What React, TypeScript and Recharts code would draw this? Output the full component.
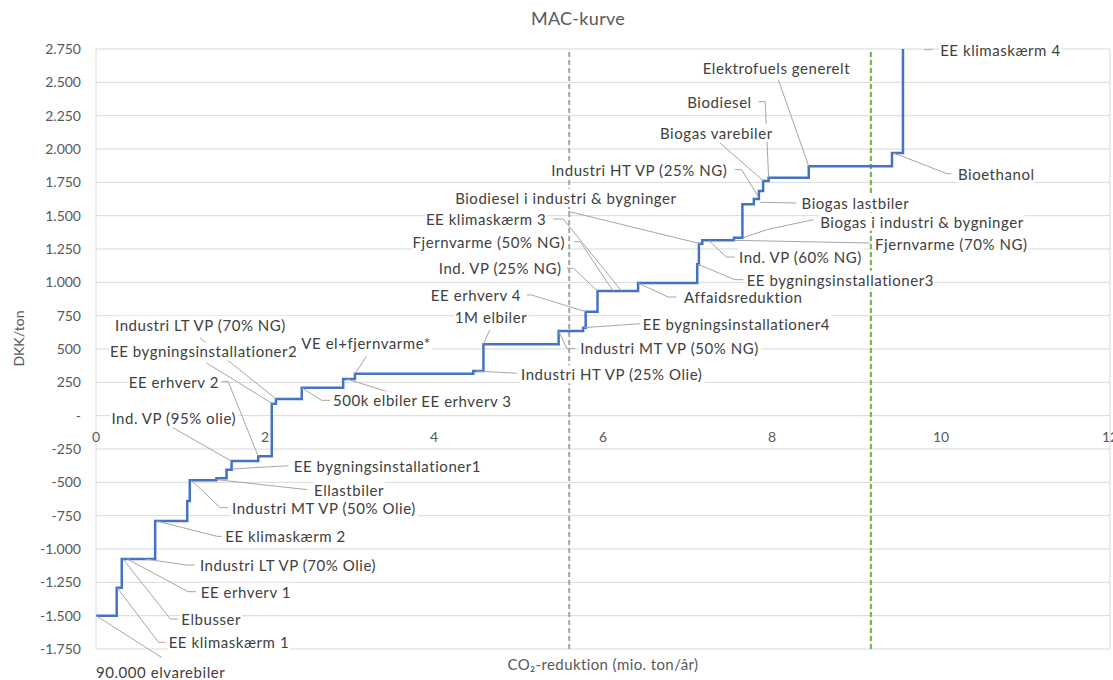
import React from 'react';
import {
  LineChart, Line, XAxis, YAxis, CartesianGrid, ReferenceLine, ReferenceDot, Label,
} from 'recharts';

// MAC curve: width of each step (mio. ton/år) and its cost (DKK/ton)
const stepWidths = [
  0.245, 0.06, 0.395, 0.38, 0.03, 0.315, 0.12, 0.06, 0.315, 0.16, 0.05, 0.305,
  0.49, 0.14, 1.4, 0.12, 0.89, 0.29, 0.03, 0.14, 0.48, 0.7, 0.02, 0.04, 0.375,
  0.1, 0.135, 0.06, 0.05, 0.065, 0.475, 0.985, 0.13, 0.3,
];
const stepCosts = [
  -1500, -1290, -1075, -790, -640, -485, -470, -405, -340, -305, 90, 125,
  210, 275, 315, 335, 535, 635, 660, 780, 935, 995, 1135, 1290, 1315,
  1335, 1585, 1625, 1685, 1760, 1785, 1870, 1970, 2900,
];

const xTicks = [0, 2, 4, 6, 8, 10, 12];
const yTicks = [
  -1750, -1500, -1250, -1000, -750, -500, -250, 0, 250, 500, 750, 1000,
  1250, 1500, 1750, 2000, 2250, 2500, 2750,
];

const targetLines = [
  { x: 5.6, color: '#A5A5A5' },
  { x: 9.17, color: '#70AD47' },
];

// data labels: leader line points and text anchor, all in data units
type Ann = { text: string; leader: number[][]; at: number[]; align: 'start' | 'end' | 'middle' };
const annotations: Ann[] = [
  { text: '90.000 elvarebiler', leader: [[0, -1500], [0.78, -1815]], at: [0, -1920], align: 'start' },
  { text: 'EE klimaskærm 1', leader: [[0.25, -1290], [0.74, -1700], [0.82, -1700]], at: [0.86, -1700], align: 'start' },
  { text: 'Elbusser', leader: [[0.32, -1075], [0.88, -1525], [0.97, -1525]], at: [1.01, -1525], align: 'start' },
  { text: 'EE erhverv 1', leader: [[0.37, -1075], [1.09, -1320], [1.18, -1320]], at: [1.24, -1320], align: 'start' },
  { text: 'Industri LT VP (70% Olie)', leader: [[0.58, -1075], [1.07, -1120], [1.17, -1120]], at: [1.23, -1120], align: 'start' },
  { text: 'EE klimaskærm 2', leader: [[0.72, -790], [1.43, -905], [1.49, -905]], at: [1.53, -905], align: 'start' },
  { text: 'Industri MT VP (50% Olie)', leader: [[1.13, -485], [1.47, -690], [1.56, -690]], at: [1.61, -690], align: 'start' },
  { text: 'Ellastbiler', leader: [[1.43, -480], [2.5, -555]], at: [2.58, -555], align: 'start' },
  { text: 'EE bygningsinstallationer1', leader: [[1.61, -400], [2.28, -375]], at: [2.34, -375], align: 'start' },
  { text: 'Ind. VP (95% olie)', leader: [[1.6, -340], [0.91, -90]], at: [0.92, -15], align: 'middle' },
  { text: 'EE erhverv 2', leader: [[1.92, -305], [1.565, 255], [1.49, 255]], at: [1.455, 255], align: 'end' },
  { text: 'EE bygningsinstallationer2', leader: [[2.09, 90], [1.31, 395]], at: [0.166, 482], align: 'start' },
  { text: 'Industri LT VP (70% NG)', leader: [[2.13, 125], [1.23, 583]], at: [0.225, 682], align: 'start' },
  { text: '500k elbiler', leader: [[2.44, 208], [2.67, 115], [2.77, 115]], at: [2.805, 115], align: 'start' },
  { text: 'EE erhverv 3', leader: [[2.97, 275], [3.8, 110]], at: [3.85, 110], align: 'start' },
  { text: 'VE el+fjernvarme*', leader: [[3.065, 315], [3.2, 445]], at: [2.43, 548], align: 'start' },
  { text: 'Industri HT VP (25% Olie)', leader: [[4.5, 335], [4.98, 318]], at: [5.03, 310], align: 'start' },
  { text: '1M elbiler', leader: [[4.585, 535], [4.66, 645]], at: [4.675, 743], align: 'middle' },
  { text: 'EE erhverv 4', leader: [[5.795, 780], [5.155, 905], [5.1, 905]], at: [5.03, 905], align: 'end' },
  { text: 'Industri MT VP (50% NG)', leader: [[5.475, 635], [5.57, 505], [5.67, 505]], at: [5.73, 505], align: 'start' },
  { text: 'EE bygningsinstallationer4', leader: [[5.78, 660], [6.44, 690]], at: [6.47, 690], align: 'start' },
  { text: 'Ind. VP (25% NG)', leader: [[5.935, 935], [5.65, 1105], [5.57, 1105]], at: [5.51, 1105], align: 'end' },
  { text: 'Fjernvarme (50% NG)', leader: [[6.12, 935], [5.73, 1305], [5.66, 1305]], at: [5.55, 1305], align: 'end' },
  { text: 'EE klimaskærm 3', leader: [[6.22, 935], [5.53, 1475], [5.41, 1475]], at: [5.33, 1475], align: 'end' },
  { text: 'Affaidsreduktion', leader: [[6.415, 995], [6.77, 890], [6.87, 890]], at: [6.96, 890], align: 'start' },
  { text: 'Biodiesel i industri & bygninger', leader: [[7.15, 1290], [5.59, 1532]], at: [4.25, 1633], align: 'start' },
  { text: 'EE bygningsinstallationer3', leader: [[7.125, 1135], [7.56, 1020], [7.66, 1020]], at: [7.7, 1020], align: 'start' },
  { text: 'Ind. VP (60% NG)', leader: [[7.25, 1315], [7.46, 1190], [7.56, 1190]], at: [7.61, 1190], align: 'start' },
  { text: 'Fjernvarme (70% NG)', leader: [[7.55, 1315], [9.16, 1295]], at: [9.22, 1290], align: 'start' },
  { text: 'Biogas i industri & bygninger', leader: [[7.66, 1335], [7.94, 1395], [8.49, 1470]], at: [8.57, 1455], align: 'start' },
  { text: 'Biogas lastbiler', leader: [[7.86, 1600], [8.29, 1595]], at: [8.35, 1595], align: 'start' },
  { text: 'Industri HT VP (25% NG)', leader: [[7.84, 1640], [7.64, 1845], [7.56, 1845]], at: [7.47, 1845], align: 'end' },
  { text: 'Biogas varebiler', leader: [[7.9, 1760], [7.385, 2045]], at: [6.675, 2120], align: 'start' },
  { text: 'Biodiesel', leader: [[7.96, 1785], [7.92, 2355], [7.84, 2355]], at: [7.76, 2355], align: 'end' },
  { text: 'Elektrofuels generelt', leader: [[8.435, 1870], [8.075, 2520]], at: [7.18, 2610], align: 'start' },
  { text: 'Bioethanol', leader: [[9.44, 1970], [10.07, 1815], [10.125, 1815]], at: [10.2, 1815], align: 'start' },
  { text: 'EE klimaskærm 4', leader: [[9.8, 2745], [9.9, 2745]], at: [9.99, 2740], align: 'start' },
];

const FONT = 'Lato, "Open Sans", sans-serif';
const LABEL_SIZE = 15;
const LABEL_SPACING = 0.55;

const starts: number[] = [];
const total = stepWidths.reduce((acc, w) => { starts.push(acc); return acc + w; }, 0);
const curve = stepCosts
  .map((c, i) => ({ x: starts[i], cost: c }))
  .concat([{ x: total, cost: stepCosts[stepCosts.length - 1] }]);

const fmt = (v: number) =>
  v === 0 ? '-' : (v < 0 ? '-' : '') + String(Math.abs(v)).replace(/\B(?=(\d{3})+(?!\d))/g, '.');

let ctx: CanvasRenderingContext2D | null = null;
const measure = (s: string, size: number) => {
  if (!ctx) ctx = document.createElement('canvas').getContext('2d');
  if (!ctx) return s.length * size * 0.52;
  ctx.font = `${size}px Lato`;
  return ctx.measureText(s).width + s.length * LABEL_SPACING;
};

const boxShape = (a: Ann) => (p: any) => {
  const w = measure(a.text, LABEL_SIZE) + 2;
  const x0 = a.align === 'start' ? p.cx - 1 : a.align === 'end' ? p.cx - w + 1 : p.cx - w / 2;
  return <rect x={x0} y={p.cy - 9} width={w} height={18} fill="#fff" />;
};

const textShape = (a: Ann) => (p: any) => (
  <text x={p.cx} y={p.cy} textAnchor={a.align} dominantBaseline="central" letterSpacing={LABEL_SPACING}
    fontFamily={FONT} fontSize={LABEL_SIZE} fill="#404040">{a.text}</text>
);

const xTickShape = (t: number) => (p: any) => (
  <text x={p.cx} y={p.cy + 21} textAnchor="middle" dominantBaseline="central"
    fontFamily={FONT} fontSize={14} fill="#595959">{t}</text>
);

export default function App() {
  return (
    <div style={{ position: 'absolute', left: 0, top: 0, width: 1113, height: 680, background: '#fff', fontFamily: FONT }}>
      <div style={{ position: 'absolute', left: 478, top: 7, width: 200, textAlign: 'center', fontSize: 18, letterSpacing: 0.3, color: '#595959' }}>
        MAC-kurve
      </div>
      <div style={{ position: 'absolute', left: -32, top: 330, width: 100, textAlign: 'center', fontSize: 14, color: '#595959', transform: 'rotate(-90deg)' }}>
        DKK/ton
      </div>
      <LineChart width={1113} height={680} data={curve} margin={{ top: 49, right: 3, bottom: 0, left: 0 }}>
        <CartesianGrid stroke="#D9D9D9" />
        <XAxis type="number" dataKey="x" domain={[0, 12]} ticks={xTicks} allowDataOverflow
          tick={false} tickLine={false} axisLine={false} height={31}>
          <Label value="CO₂-reduktion (mio. ton/år)" position="center" letterSpacing={0.4}
            fill="#595959" fontSize={15} fontFamily={FONT} />
        </XAxis>
        <YAxis type="number" domain={[-1750, 2750]} ticks={yTicks} allowDataOverflow width={96}
          tickFormatter={fmt} tickLine={false} axisLine={false} tickMargin={9}
          tick={{ fill: '#595959', fontSize: 14, fontFamily: FONT }} />
        {targetLines.map((t) => (
          <ReferenceLine key={t.x} x={t.x} stroke={t.color} strokeWidth={2} strokeDasharray="5 3" />
        ))}
        {xTicks.map((t) => (
          <ReferenceDot key={'xt' + t} x={t} y={0} r={0} ifOverflow="visible" shape={xTickShape(t)} />
        ))}
        <Line type="stepAfter" dataKey="cost" stroke="#4472C4" strokeWidth={2.5} dot={false}
          isAnimationActive={false} />
        {annotations.flatMap((a, i) =>
          a.leader.slice(1).map((pt, j) => (
            <ReferenceLine key={`l${i}-${j}`} ifOverflow="visible" stroke="#A6A6A6" strokeWidth={1}
              segment={[{ x: a.leader[j][0], y: a.leader[j][1] }, { x: pt[0], y: pt[1] }]} />
          )),
        )}
        {annotations.map((a, i) => (
          <ReferenceDot key={'b' + i} x={a.at[0]} y={a.at[1]} r={0} ifOverflow="visible" shape={boxShape(a)} />
        ))}
        {annotations.map((a, i) => (
          <ReferenceDot key={'t' + i} x={a.at[0]} y={a.at[1]} r={0} ifOverflow="visible" shape={textShape(a)} />
        ))}
      </LineChart>
    </div>
  );
}
